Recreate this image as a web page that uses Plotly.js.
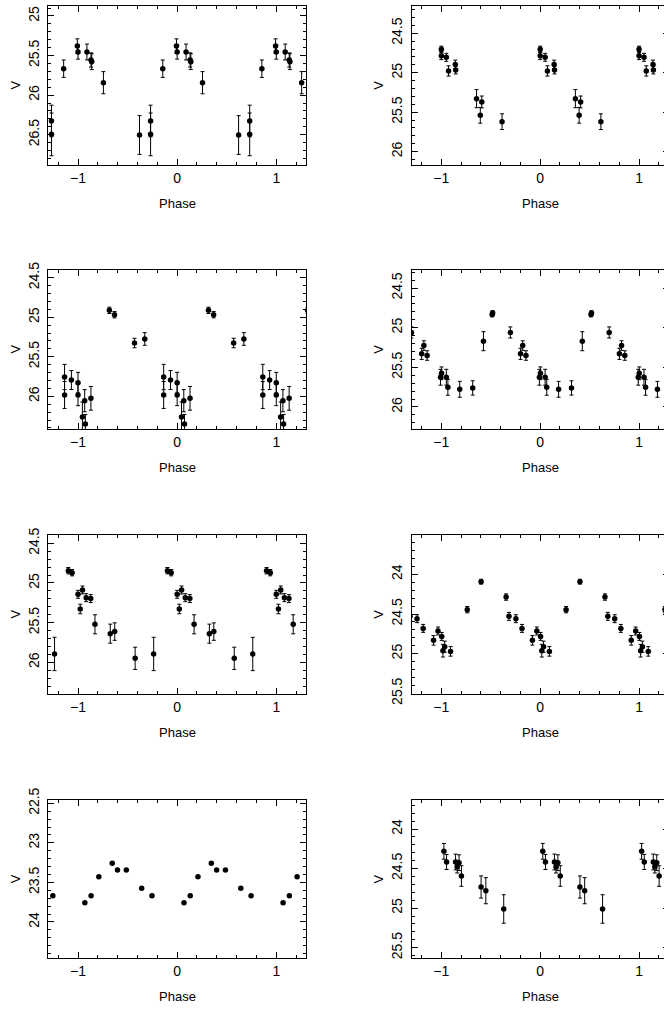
<!DOCTYPE html>
<html>
<head>
<meta charset="utf-8">
<script src="https://cdn.plot.ly/plotly-3.0.1.min.js"></script>
<style>
html, body { margin: 0; padding: 0; background: #fff; overflow: hidden; }
#chart { width: 680px; height: 1009px; }
</style>
</head>
<body>
<div id="chart"></div>
<script>
// ---------- DATA (phase in [0,1), V magnitude, error) ----------
const p1Phase = [0.855, 0.993, 0.0, 0.09, 0.131, 0.138, 0.256, 0.62, 0.732, 0.732];
const p1Mag   = [25.666, 25.379, 25.455, 25.455, 25.556, 25.577, 25.843, 26.504, 26.327, 26.496];
const p1Err   = [0.11, 0.09, 0.09, 0.1, 0.09, 0.1, 0.14, 0.245, 0.2, 0.27];

const p2Phase = [0.0, 0.0, 0.05, 0.073, 0.141, 0.145, 0.356, 0.394, 0.409, 0.614];
const p2Mag   = [24.703, 24.783, 24.804, 24.977, 24.895, 24.965, 25.328, 25.539, 25.37, 25.62];
const p2Err   = [0.04, 0.05, 0.05, 0.065, 0.055, 0.05, 0.115, 0.1, 0.075, 0.1];

const p3Phase = [0.864, 0.864, 0.933, 0.0, 0.0, 0.044, 0.067, 0.074, 0.13, 0.316, 0.368, 0.57, 0.673];
const p3Mag   = [25.756, 25.983, 25.794, 25.827, 25.983, 26.261, 26.055, 26.35, 26.025, 24.913, 24.968, 25.326, 25.275];
const p3Err   = [0.16, 0.17, 0.12, 0.13, 0.135, 0.19, 0.14, 0.12, 0.15, 0.04, 0.04, 0.06, 0.08];

const p4Phase = [0.801, 0.823, 0.856, 0.992, 0.002, 0.05, 0.066, 0.186, 0.317, 0.426, 0.514, 0.519, 0.698];
const p4Mag   = [25.33, 25.225, 25.351, 25.625, 25.575, 25.625, 25.752, 25.777, 25.76, 25.17, 24.833, 24.816, 25.06];
const p4Err   = [0.07, 0.06, 0.06, 0.1, 0.08, 0.1, 0.1, 0.1, 0.09, 0.12, 0.03, 0.03, 0.07];

const p5Phase = [0.902, 0.94, 0.0, 0.022, 0.045, 0.082, 0.128, 0.171, 0.325, 0.37, 0.576, 0.763];
const p5Mag   = [24.845, 24.87, 25.143, 25.328, 25.088, 25.185, 25.197, 25.521, 25.639, 25.613, 25.95, 25.895];
const p5Err   = [0.04, 0.04, 0.05, 0.06, 0.05, 0.05, 0.05, 0.12, 0.12, 0.11, 0.14, 0.21];

const p6Phase = [0.921, 0.966, 0.004, 0.016, 0.034, 0.093, 0.262, 0.402, 0.655, 0.684, 0.754, 0.816];
const p6Mag   = [24.832, 24.714, 24.782, 24.962, 24.912, 24.971, 24.445, 24.092, 24.286, 24.529, 24.559, 24.681];
const p6Err   = [0.06, 0.05, 0.05, 0.08, 0.07, 0.06, 0.04, 0.03, 0.04, 0.05, 0.05, 0.05];

const p7Phase = [0.069, 0.132, 0.21, 0.345, 0.398, 0.487, 0.642, 0.746];
const p7Mag   = [23.756, 23.667, 23.427, 23.259, 23.343, 23.343, 23.575, 23.667];
const p7Err   = null;

const p8Phase = [0.026, 0.053, 0.144, 0.16, 0.179, 0.203, 0.402, 0.45, 0.631];
const p8Mag   = [24.282, 24.417, 24.417, 24.476, 24.426, 24.594, 24.733, 24.78, 25.011];
const p8Err   = [0.1, 0.095, 0.1, 0.08, 0.1, 0.13, 0.14, 0.165, 0.18];

const xTickVals = [-1, 0, 1];
const xTickText = ['\u22121', '0', '1'];
const xTitle = 'Phase';
const yTitle = 'V';

// ---------- LAYOUT CONFIG ----------
const W = 680, H = 1009;
const colPx = [[48.3, 306], [411.7, 668.7]];
const rowPx = [[6, 165], [270, 429], [535, 694], [800, 958.3]];
const panels = [
  {ph: p1Phase, mag: p1Mag, err: p1Err, col: 0, row: 0, yr: [26.883, 24.874]},
  {ph: p2Phase, mag: p2Mag, err: p2Err, col: 1, row: 0, yr: [26.169, 24.154]},
  {ph: p3Phase, mag: p3Mag, err: p3Err, col: 0, row: 1, yr: [26.413, 24.403]},
  {ph: p4Phase, mag: p4Mag, err: p4Err, col: 1, row: 1, yr: [26.278, 24.272]},
  {ph: p5Phase, mag: p5Mag, err: p5Err, col: 0, row: 2, yr: [26.4, 24.395]},
  {ph: p6Phase, mag: p6Mag, err: p6Err, col: 1, row: 2, yr: [25.508, 23.504]},
  {ph: p7Phase, mag: p7Mag, err: p7Err, col: 0, row: 3, yr: [24.459, 22.458]},
  {ph: p8Phase, mag: p8Mag, err: p8Err, col: 1, row: 3, yr: [25.635, 23.633]}
];
const shifts = [-2, -1, 0, 1];
const FONT = 'Liberation Sans, Arial, Helvetica, sans-serif';

const data = [];
const layout = {
  width: W, height: H,
  margin: {l: 0, r: 0, t: 0, b: 0},
  paper_bgcolor: '#fff', plot_bgcolor: '#fff',
  showlegend: false,
  font: {family: FONT, size: 14, color: '#000'},
  annotations: []
};

panels.forEach((p, i) => {
  const n = i + 1;
  const xs = [], ys = [], es = [];
  shifts.forEach(s => {
    p.ph.forEach((v, k) => {
      const x = v + s;
      if (x > -1.4 && x < 1.4) {
        xs.push(x); ys.push(p.mag[k]);
        if (p.err) es.push(p.err[k]);
      }
    });
  });
  const tr = {
    type: 'scatter', mode: 'markers', x: xs, y: ys,
    xaxis: 'x' + (n === 1 ? '' : n), yaxis: 'y' + (n === 1 ? '' : n),
    marker: {color: '#000', size: 5.5},
    hoverinfo: 'skip'
  };
  if (p.err) tr.error_y = {type: 'data', array: es, visible: true, color: '#000', thickness: 1, width: 2};
  data.push(tr);

  const cx = colPx[p.col], ry = rowPx[p.row];
  const common = {
    showline: true, linecolor: '#000', linewidth: 1, mirror: 'allticks',
    ticks: 'inside', ticklen: 6, tickwidth: 1, tickcolor: '#000',
    showgrid: false, zeroline: false, fixedrange: true,
    tickfont: {family: FONT, size: 14, color: '#000'}
  };
  layout['xaxis' + (n === 1 ? '' : n)] = Object.assign({}, common, {
    domain: [cx[0] / W, cx[1] / W], range: [-1.3, 1.3],
    anchor: 'y' + (n === 1 ? '' : n),
    tickmode: 'array', tickvals: xTickVals, ticktext: xTickText,
    minor: {dtick: 0.2, tick0: 0, ticks: 'inside', ticklen: 3, tickcolor: '#000', showgrid: false}
  });
  layout['yaxis' + (n === 1 ? '' : n)] = Object.assign({}, common, {
    domain: [1 - ry[1] / H, 1 - ry[0] / H], range: p.yr,
    anchor: 'x' + (n === 1 ? '' : n),
    dtick: 0.5, tick0: 0, tickangle: -90, ticklabelstandoff: 3,
    minor: {dtick: 0.1, tick0: 0, ticks: 'inside', ticklen: 3, tickcolor: '#000', showgrid: false}
  });
  const xmid = (cx[0] + cx[1]) / 2;
  // x-axis title
  layout.annotations.push({
    text: xTitle, xref: 'paper', yref: 'paper',
    x: (p.col === 0 ? 177 : 540) / W, y: 1 - (ry[1] + 38.3) / H,
    xanchor: 'center', yanchor: 'middle', showarrow: false,
    font: {family: FONT, size: 13, color: '#000'}
  });
  // y-axis title
  layout.annotations.push({
    text: yTitle, xref: 'paper', yref: 'paper', textangle: -90,
    x: (p.col === 0 ? 15 : 378.3) / W, y: 1 - ((ry[0] + ry[1]) / 2) / H,
    xanchor: 'center', yanchor: 'middle', showarrow: false,
    font: {family: FONT, size: 13, color: '#000'}
  });
});

Plotly.newPlot('chart', data, layout, {displayModeBar: false, staticPlot: true});
</script>
</body>
</html>
